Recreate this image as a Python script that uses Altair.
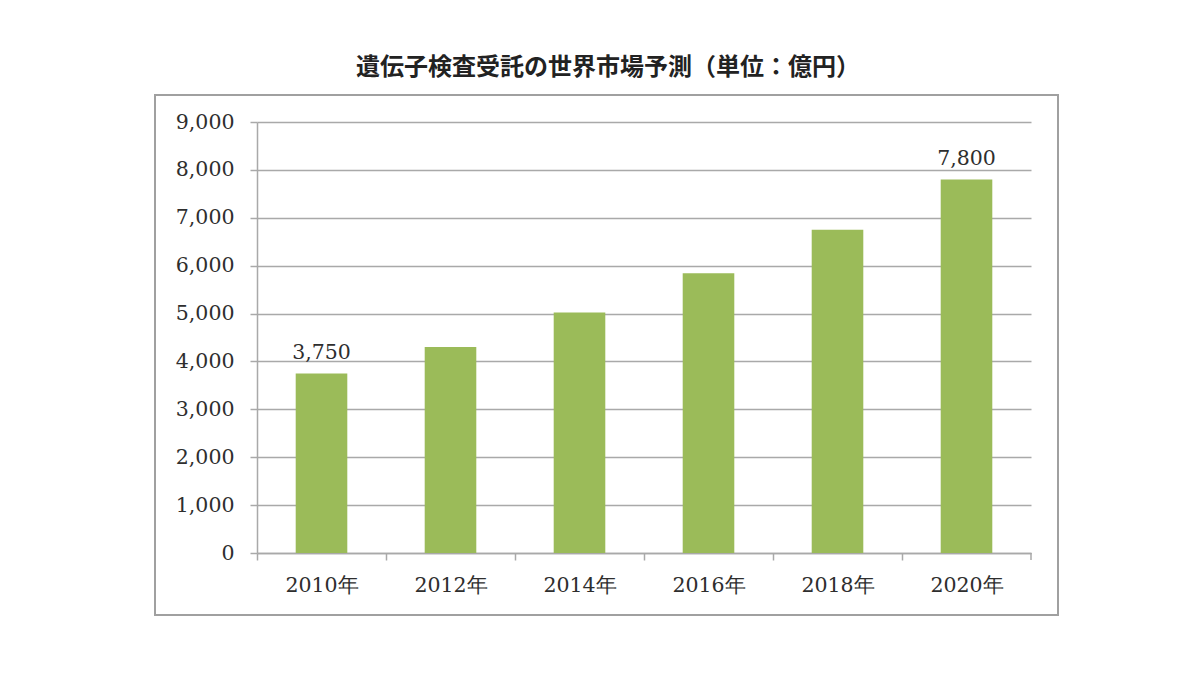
import altair as alt
import pandas as pd

years = ["2010年", "2012年", "2014年", "2016年", "2018年", "2020年"]
values = [3750, 4300, 5020, 5840, 6750, 7800]
labels = ["3,750", "", "", "", "", "7,800"]
y_ticks = [0, 1000, 2000, 3000, 4000, 5000, 6000, 7000, 8000, 9000]
title_text = "遺伝子検査受託の世界市場予測（単位：億円）"

df = pd.DataFrame({"year": years, "value": values, "label": labels})

W, H = 774, 431
GRAY = "#a9a9a9"
SERIF = "DejaVu Serif"
FS = 20.5

x_enc = alt.X(
    "year:N",
    sort=years,
    scale=alt.Scale(paddingInner=0.6, paddingOuter=0.3),
    axis=alt.Axis(
        title=None,
        labelAngle=0,
        labelFont=SERIF,
        labelFontSize=FS,
        labelColor="#2e2e2e",
        labelPadding=15,
        tickOffset=-64.5,
        labelOffset=64.5,
        tickSize=7,
        tickColor=GRAY,
        tickWidth=1.5,
        domainColor=GRAY,
        domainWidth=1.5,
        grid=False,
    ),
)

y_enc = alt.Y(
    "value:Q",
    scale=alt.Scale(domain=[0, 9000], nice=False),
    axis=alt.Axis(
        title=None,
        values=y_ticks,
        format=",d",
        labelFont=SERIF,
        labelFontSize=FS,
        labelColor="#2e2e2e",
        labelPadding=16,
        tickSize=7,
        tickColor=GRAY,
        tickWidth=1.5,
        domainColor=GRAY,
        domainWidth=1.5,
        grid=True,
        gridColor=GRAY,
        gridWidth=1.5,
    ),
)

frame = alt.Chart(pd.DataFrame({"a": [0]})).mark_rect(
    filled=False, stroke="#a0a0a0", strokeWidth=2
).encode(
    x=alt.value(-102), x2=alt.value(801), y=alt.value(-27), y2=alt.value(493)
)

bars = alt.Chart(df).mark_bar(color="#9bbb59").encode(x=x_enc, y=y_enc)

text = alt.Chart(df).mark_text(
    font=SERIF, fontSize=FS, color="#2e2e2e", baseline="bottom", dy=-10
).encode(x=alt.X("year:N", sort=years), y="value:Q", text="label:N")

end_tick = alt.Chart(pd.DataFrame({"a": [0]})).mark_rule(
    color=GRAY, strokeWidth=1.5
).encode(x=alt.value(W), y=alt.value(H), y2=alt.value(H + 7))

chart = (
    alt.layer(frame, bars, text, end_tick)
    .properties(
        width=W,
        height=H,
        autosize=alt.AutoSizeParams(type="none"),
        padding={"left": 249, "top": 114, "right": 150, "bottom": 100},
        background="white",
        title=alt.TitleParams(
            title_text,
            font="Noto Sans CJK JP",
            fontSize=24,
            fontWeight="bold",
            color="#222222",
            anchor="middle",
            dx=-36,
            offset=14,
        ),
    )
    .configure_view(stroke=None)
)

chart.save("out.html", embed_options={"renderer": "svg", "actions": False})
